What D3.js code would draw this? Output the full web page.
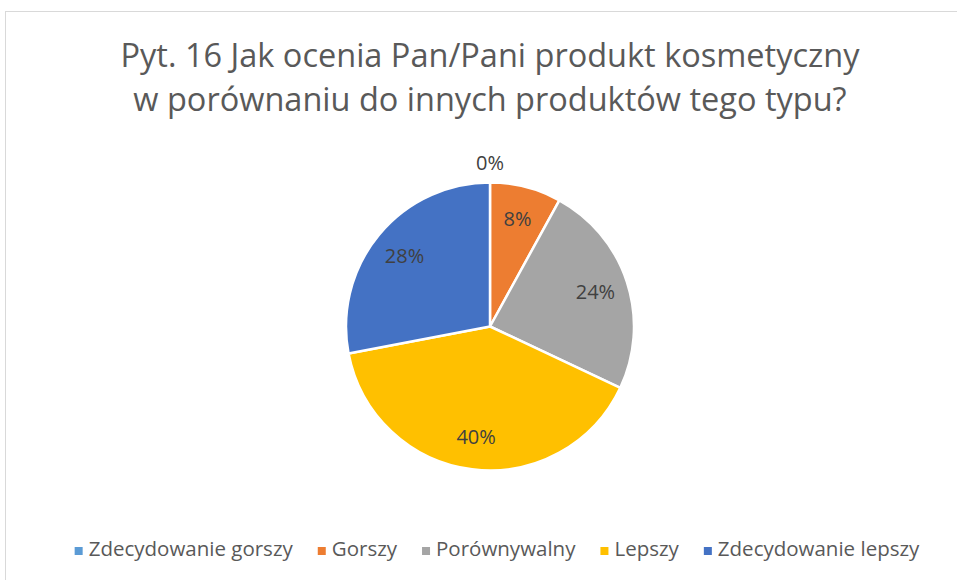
<!DOCTYPE html>
<html>
<head>
<meta charset="utf-8">
<script src="https://cdnjs.cloudflare.com/ajax/libs/d3/7.8.5/d3.min.js"></script>
<style>
  html, body { margin: 0; padding: 0; background: #fff; }
  svg { display: block; }
  text { font-family: "Open Sans", sans-serif; }
</style>
</head>
<body>
<svg id="chart" width="957" height="580"></svg>
<script>
// Survey answers and their shares (percent)
const categories = ["Zdecydowanie gorszy", "Gorszy", "Porównywalny", "Lepszy", "Zdecydowanie lepszy"];
const values = [0, 8, 24, 40, 28];
const colors = ["#5B9BD5", "#ED7D31", "#A5A5A5", "#FFC000", "#4472C4"];
const titleLines = ["Pyt. 16 Jak ocenia Pan/Pani produkt kosmetyczny", "w porównaniu do innych produktów tego typu?"];

const width = 957, height = 580;
const svg = d3.select("#chart");

// chart area frame
svg.append("rect")
  .attr("x", 5.5).attr("y", 11.5)
  .attr("width", width + 10).attr("height", height + 10)
  .attr("fill", "#fff").attr("stroke", "#d9d9d9").attr("stroke-width", 1);

// title
const title = svg.append("text")
  .attr("text-anchor", "middle")
  .attr("fill", "#595959")
  .attr("font-size", 32.5);
titleLines.forEach((t, i) => {
  title.append("tspan").attr("x", 490).attr("y", 67 + i * 44).text(t);
});

// pie
const cx = 490, cy = 326.5, r = 144;
const data = categories.map((c, i) => ({ cat: c, value: values[i], color: colors[i] }));
const pie = d3.pie().value(d => d.value).sort(null);
const arcs = pie(data);
const arc = d3.arc().innerRadius(0).outerRadius(r);
const labelArc = d3.arc().innerRadius(r * 0.77).outerRadius(r * 0.77);
const outerLabelArc = d3.arc().innerRadius(r + 20).outerRadius(r + 20);

const g = svg.append("g").attr("transform", `translate(${cx},${cy})`);
g.selectAll("path.slice")
  .data(arcs)
  .join("path")
  .attr("class", "slice")
  .attr("d", arc)
  .attr("fill", d => d.data.color)
  .attr("stroke", "#fff")
  .attr("stroke-width", 2.5)
  .attr("stroke-linejoin", "round");

g.selectAll("text.lbl")
  .data(arcs)
  .join("text")
  .attr("class", "lbl")
  .attr("transform", d => {
    const p = d.data.value === 0 ? outerLabelArc.centroid(d) : labelArc.centroid(d);
    return `translate(${p[0]},${p[1]})`;
  })
  .attr("text-anchor", "middle")
  .attr("dy", "0.36em")
  .attr("font-size", 20)
  .attr("fill", "#404040")
  .text(d => d.data.value + "%");

// legend
const legend = svg.append("g").attr("class", "legend");
const items = legend.selectAll("g.item").data(data).join("g").attr("class", "item");
items.append("rect")
  .attr("width", 8).attr("height", 8)
  .attr("y", -9)
  .attr("fill", d => d.color);
items.append("text")
  .attr("x", 14)
  .attr("font-size", 20.5)
  .attr("fill", "#595959")
  .text(d => d.cat);

let xPos = 0;
const gap = 25;
items.each(function() {
  const el = d3.select(this);
  el.attr("transform", `translate(${xPos},0)`);
  const w = 14 + el.select("text").node().getComputedTextLength();
  xPos += w + gap;
});
const totalW = xPos - gap;
legend.attr("transform", `translate(${497 - totalW / 2},556)`);
</script>
</body>
</html>
